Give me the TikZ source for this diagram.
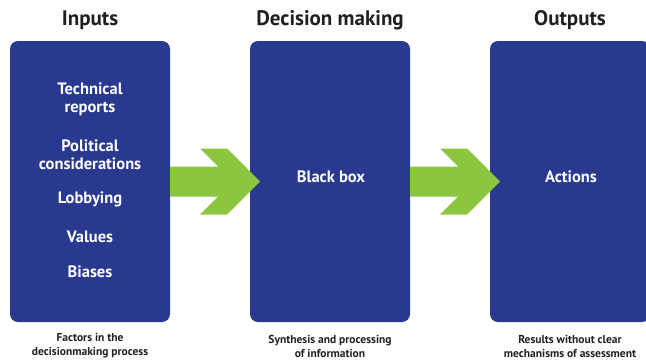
\documentclass[tikz,border=0pt]{standalone}
\usepackage{fontspec}
\setmainfont{PT Sans}
\definecolor{boxblue}{RGB}{41,57,143}
\definecolor{arrowgreen}{RGB}{140,198,63}
\definecolor{darktext}{RGB}{35,31,32}
\begin{document}
\begin{tikzpicture}[x=1pt,y=-1pt,
  panel/.style={fill=boxblue,draw=none,rounded corners=8pt,minimum width=160pt,minimum height=281pt,inner sep=0pt},
  heading/.style={text=darktext,font=\fontsize{21}{23}\selectfont\bfseries,inner sep=0pt},
  intext/.style={text=white,font=\fontsize{16.5}{18}\selectfont\bfseries,align=center,inner sep=0pt},
  caption/.style={text=darktext,font=\fontsize{11.5}{14}\selectfont\bfseries,align=center,inner sep=0pt},
  chevron/.style={fill=arrowgreen,draw=none}]
\useasboundingbox (0,0) rectangle (646,364);
\begin{scope}
\clip (0,0) rectangle (646,364);
\node[panel] (in) at (90,181.5) {};
\node[panel] (dm) at (330,181.5) {};
\node[panel] (out) at (570,181.5) {};
\end{scope}
% headings
\node[heading] (hin) at (90,20) {Inputs};
\node[heading] (hdm) at (330,20) {Decision making};
\node[heading] (hout) at (570,20) {Outputs};
% input texts
\node[intext] (t1) at (90,99.5) {Technical\\reports};
\node[intext] (t2) at (90,154.5) {Political\\considerations};
\node[intext] (t3) at (90,199.5) {Lobbying};
\node[intext] (t4) at (90,236.5) {Values};
\node[intext] (t5) at (90,271.5) {Biases};
\node[intext] (bb) at (331,176.5) {Black box};
\node[intext] (act) at (571,176.5) {Actions};
% captions
\node[caption] (cin) at (90,346) {Factors in the\\decisionmaking process};
\node[caption] (cdm) at (330,346) {Synthesis and processing\\of information};
\node[caption] (cout) at (570,346) {Results without clear\\mechanisms of assessment};
% arrows
\foreach \src in {in,dm}{
  \begin{scope}[shift={(\src.east)}]
    \fill[chevron] (0,-15) -- (48,-15) -- (30,-33) -- (57,-33) -- (90,0) -- (57,33) -- (30,33) -- (48,15) -- (0,15) -- cycle;
  \end{scope}
}
\end{tikzpicture}
\end{document}
